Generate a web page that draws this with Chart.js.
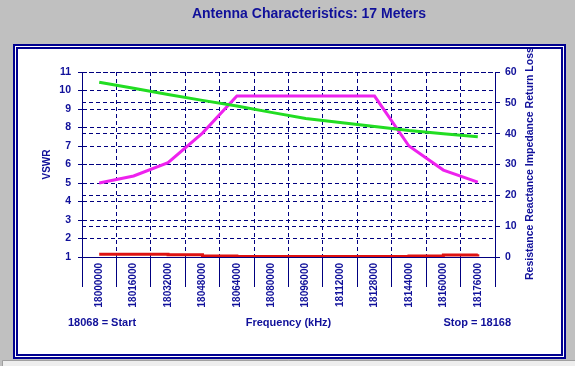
<!doctype html>
<html lang="en">
<head>
<meta charset="utf-8">
<title>Antenna Characteristics: 17 Meters</title>
<script src="https://cdn.jsdelivr.net/npm/chart.js@4.4.0/dist/chart.umd.min.js"></script>
<style>
	html, body { margin:0; padding:0; background:#c0c0c0; overflow:hidden; }
	#wrap { position:relative; width:575px; height:366px; }
</style>
</head>
<body>
<div id="wrap"><canvas id="myChart" width="575" height="366"></canvas></div>
<script>
// frequency points (Hz)
var freqLabels = ['18000000','18016000','18032000','18048000','18064000','18080000',
                  '18096000','18112000','18128000','18144000','18160000','18176000'];
// green - right axis
var resistance = [56.7, 54.7, 52.7, 50.8, 49.0, 46.9, 44.9, 43.6, 42.3, 41.0, 40.0, 39.0];
// magenta - left axis
var vswr = [5.0, 5.38, 6.1, 7.7, 9.7, 9.7, 9.7, 9.7, 9.7, 7.0, 5.7, 5.05];
// red - right axis
var reactance = [0.9, 0.9, 0.7, 0.3, 0.2, 0.2, 0.2, 0.2, 0.2, 0.3, 0.65, 0.9];

var chartTitle = 'Antenna Characteristics: 17 Meters';
var startText = '18068 = Start';
var stopText = 'Stop = 18168';
var leftTitle = 'VSWR';
var rightTitle = 'Resistance Reactance Impedance Return Loss';
var xTitle = 'Frequency (kHz)';

var navy = '#000080';
var txt = '#10109a';
var fam = "'Liberation Sans', Arial, sans-serif";

// background, panel and the extra texts
var framePlugin = {
	id: 'frame',
	beforeDraw: function(chart) {
		var ctx = chart.ctx;
		ctx.save();
		ctx.fillStyle = '#c0c0c0';
		ctx.fillRect(0, 0, 575, 366);
		// status strip
		ctx.fillStyle = '#eeeeee';
		ctx.fillRect(2, 361, 573, 5);
		ctx.strokeStyle = '#a0a0a0';
		ctx.lineWidth = 1;
		ctx.beginPath();
		ctx.moveTo(2.5, 366); ctx.lineTo(2.5, 360.5); ctx.lineTo(575, 360.5);
		ctx.stroke();
		// panel
		ctx.fillStyle = '#ffffff';
		ctx.fillRect(13, 44, 553, 315);
		ctx.strokeStyle = '#000090';
		ctx.lineWidth = 2;
		ctx.strokeRect(14, 45, 551, 313);
		ctx.strokeRect(17, 48, 545, 307);
		ctx.restore();
	},
	afterDraw: function(chart) {
		var ctx = chart.ctx;
		ctx.save();
		ctx.fillStyle = txt;
		ctx.textBaseline = 'middle';
		ctx.font = 'bold 14px ' + fam;
		ctx.textAlign = 'center';
		ctx.fillText(chartTitle, 309, 14.5);

		ctx.font = 'bold 11px ' + fam;
		ctx.textAlign = 'left';
		ctx.fillText(startText, 68, 322.7);
		ctx.textAlign = 'right';
		ctx.fillText(stopText, 511, 322.7);

		// right axis title, reads bottom to top, cut by the panel
		ctx.beginPath();
		ctx.rect(19, 49, 542, 305);
		ctx.clip();
		ctx.translate(530, 280);
		ctx.rotate(-Math.PI / 2);
		ctx.textAlign = 'left';
		ctx.font = 'bold 10.5px ' + fam;
		ctx.fillText(rightTitle, 0, 0);
		ctx.restore();
	}
};

var ctx = document.getElementById('myChart').getContext('2d');
var myChart = new Chart(ctx, {
	type: 'line',
	data: {
		labels: freqLabels,
		datasets: [{
			label: 'Resistance',
			data: resistance,
			yAxisID: 'y1',
			borderColor: '#22dd22',
			borderWidth: 3,
			pointRadius: 0,
			fill: false
		}, {
			label: 'VSWR',
			data: vswr,
			yAxisID: 'y',
			borderColor: '#ee22ee',
			borderWidth: 3,
			pointRadius: 0,
			fill: false
		}, {
			label: 'Reactance',
			data: reactance,
			yAxisID: 'y1',
			stepped: 'before',
			borderColor: '#dd1111',
			borderWidth: 3,
			pointRadius: 0,
			fill: false
		}]
	},
	options: {
		responsive: false,
		animation: false,
		layout: { padding: { top: 72, left: 0, right: 0, bottom: 0 } },
		plugins: {
			legend: { display: false },
			tooltip: { enabled: false },
			title: { display: false }
		},
		scales: {
			x: {
				type: 'category',
				offset: true,
				grid: { offset: true, color: navy, lineWidth: 1, tickLength: 30, tickColor: navy, tickWidth: 1 },
				border: { display: true, color: navy, width: 1, dash: [4, 3] },
				ticks: {
					autoSkip: false, minRotation: 90, maxRotation: 90, padding: -24,
					color: txt, font: { family: fam, size: 10, weight: 'bold' }
				},
				title: {
					display: true, text: xTitle, color: txt,
					font: { family: fam, size: 11, weight: 'bold' },
					padding: { top: 0, bottom: 36.7 }
				},
				afterFit: function(s) { s.height = 109; }
			},
			y: {
				position: 'left',
				min: 1, max: 11,
				grid: { color: navy, lineWidth: 1, tickLength: 4, tickColor: navy },
				border: { display: true, color: navy, width: 1, dash: [4, 3] },
				ticks: { stepSize: 1, padding: 7, color: txt, font: { family: fam, size: 10.5, weight: 'bold' } },
				title: {
					display: true, text: leftTitle, color: txt,
					font: { family: fam, size: 10, weight: 'bold' },
					padding: { top: 41, bottom: 0 }
				},
				afterFit: function(s) { s.width = 82; }
			},
			y1: {
				position: 'right',
				min: 0, max: 60,
				grid: { color: navy, lineWidth: 1, tickLength: 5, tickColor: navy },
				border: { display: true, color: navy, width: 1, dash: [4, 3] },
				ticks: { stepSize: 10, padding: 5, color: txt, font: { family: fam, size: 10.5, weight: 'bold' } },
				afterFit: function(s) { s.width = 80; }
			}
		}
	},
	plugins: [framePlugin]
});
</script>
</body>
</html>
